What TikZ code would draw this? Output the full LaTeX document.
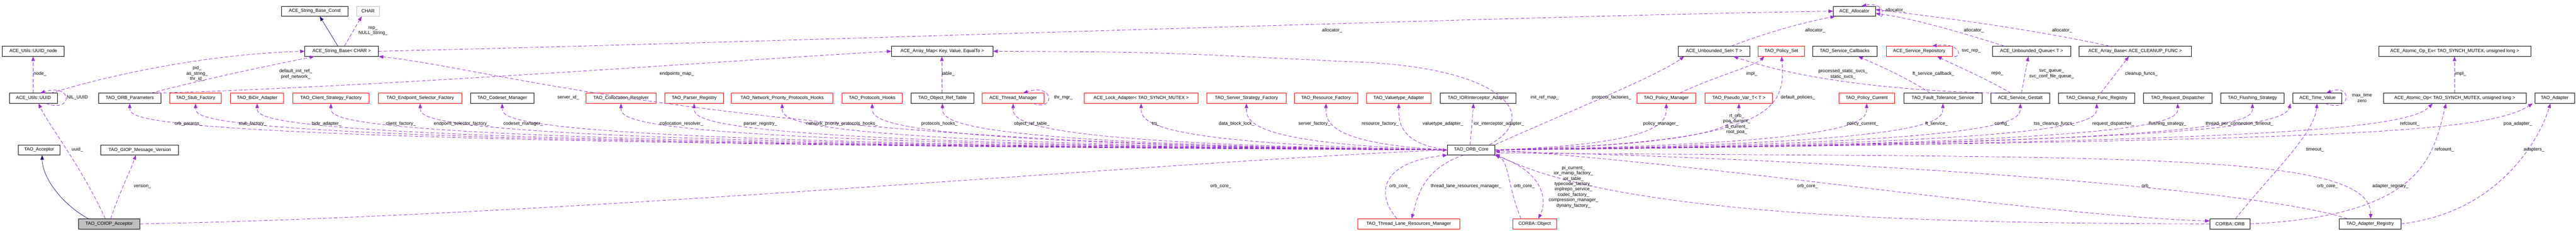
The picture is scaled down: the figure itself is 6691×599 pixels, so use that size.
\documentclass[tikz,border=0pt]{standalone}
\usepackage{fontspec}
\setmainfont{Liberation Sans}
\usetikzlibrary{arrows.meta,calc}
\definecolor{dpurple}{HTML}{9A32CD}
\definecolor{dnavy}{HTML}{191970}
\tikzset{
  box/.style={draw=black,line width=1pt,minimum height=26pt,inner sep=2pt,font=\fontsize{12}{14}\selectfont},
  redbox/.style={box,draw=red},
  lbl/.style={inner sep=0pt,align=center,font=\fontsize{12}{14}\selectfont},
  dep/.style={draw=dpurple,dash pattern=on 9pt off 5pt,line width=1.1pt,-{Triangle[length=12pt,width=9pt,fill=dpurple]}},
  inh/.style={draw=dnavy,line width=1pt,-{Triangle[length=12pt,width=9pt,fill=dnavy]}}
}
\newcommand\ce[2]{\draw[dep] (core.#1) .. controls ($(#2)+(0,-105)$) and ($(#2)+(0,-45)$) .. (#2);}
\begin{document}
\begin{tikzpicture}[x=1pt,y=1pt]
\useasboundingbox (0,0) rectangle (6691,-599);
% row 1
\node[box,minimum width=173] (sbconst) at (817.5,-29) {ACE\_String\_Base\_Const};
\node[box,draw=gray!50,minimum width=60] (char) at (956,-29) {CHAR};
\node[box,minimum width=109] (alloc) at (4816.5,-29) {ACE\_Allocator};
% row 2
\node[box,minimum width=161] (uuidnode) at (86.5,-133) {ACE\_Utils::UUID\_node};
\node[box,minimum width=191] (sbase) at (887.5,-133) {ACE\_String\_Base< CHAR >};
\node[box,minimum width=263] (arraymap) at (2447.5,-133) {ACE\_Array\_Map< Key, Value, EqualTo >};
\node[box,minimum width=186] (uset) at (4452,-133) {ACE\_Unbounded\_Set< T >};
\node[redbox,minimum width=120] (polset) at (4627,-133) {TAO\_Policy\_Set};
\node[box,minimum width=167] (svccb) at (4791.5,-133) {TAO\_Service\_Callbacks};
\node[redbox,minimum width=172] (svcrepo) at (4985,-133) {ACE\_Service\_Repository};
\node[box,minimum width=204] (uqueue) at (5277,-133) {ACE\_Unbounded\_Queue< T >};
\node[box,minimum width=292] (abase) at (5546,-133) {ACE\_Array\_Base< ACE\_CLEANUP\_FUNC >};
\node[box,minimum width=394] (atomicex) at (6376,-133) {ACE\_Atomic\_Op\_Ex< TAO\_SYNCH\_MUTEX, unsigned long >};
% row 3
\node[box,minimum width=124] (uuid) at (87,-255) {ACE\_Utils::UUID};
\node[box,minimum width=162] (orbparams) at (337,-255) {TAO\_ORB\_Parameters};
\node[redbox,minimum width=134] (stubf) at (508,-255) {TAO\_Stub\_Factory};
\node[redbox,minimum width=138] (bidir) at (668,-255) {TAO\_BiDir\_Adapter};
\node[redbox,minimum width=199] (clientsf) at (859.5,-255) {TAO\_Client\_Strategy\_Factory};
\node[redbox,minimum width=217] (endpsf) at (1091.5,-255) {TAO\_Endpoint\_Selector\_Factory};
\node[box,minimum width=165] (codeset) at (1304.5,-255) {TAO\_Codeset\_Manager};
\node[redbox,minimum width=182] (colloc) at (1613,-255) {TAO\_Collocation\_Resolver};
\node[redbox,minimum width=152] (parser) at (1803,-255) {TAO\_Parser\_Registry};
\node[redbox,minimum width=263] (netprio) at (2031.5,-255) {TAO\_Network\_Priority\_Protocols\_Hooks};
\node[redbox,minimum width=157] (prothooks) at (2265.5,-255) {TAO\_Protocols\_Hooks};
\node[box,minimum width=162] (objref) at (2448,-255) {TAO\_Object\_Ref\_Table};
\node[redbox,minimum width=161] (thrmgr) at (2631.5,-255) {ACE\_Thread\_Manager};
\node[redbox,minimum width=296] (lockad) at (2964,-255) {ACE\_Lock\_Adapter< TAO\_SYNCH\_MUTEX >};
\node[redbox,minimum width=205] (serversf) at (3237.5,-255) {TAO\_Server\_Strategy\_Factory};
\node[redbox,minimum width=164] (resf) at (3444,-255) {TAO\_Resource\_Factory};
\node[redbox,minimum width=168] (valuet) at (3633,-255) {TAO\_Valuetype\_Adapter};
\node[box,minimum width=197] (iorint) at (3839.5,-255) {TAO\_IORInterceptor\_Adapter};
\node[redbox,minimum width=152] (polmgr) at (4328,-255) {TAO\_Policy\_Manager};
\node[redbox,minimum width=175] (pseudo) at (4516.5,-255) {TAO\_Pseudo\_Var\_T< T >};
\node[redbox,minimum width=145] (polcur) at (4848.5,-255) {TAO\_Policy\_Current};
\node[box,minimum width=203] (ft) at (5046.5,-255) {TAO\_Fault\_Tolerance\_Service};
\node[box,minimum width=153] (gestalt) at (5247.5,-255) {ACE\_Service\_Gestalt};
\node[box,minimum width=198] (cleanup) at (5446,-255) {TAO\_Cleanup\_Func\_Registry};
\node[box,minimum width=177] (reqdisp) at (5656.5,-255) {TAO\_Request\_Dispatcher};
\node[box,minimum width=165] (flush) at (5850.5,-255) {TAO\_Flushing\_Strategy};
\node[box,minimum width=127] (timev) at (6019.5,-255) {ACE\_Time\_Value};
\node[box,minimum width=370] (atomic) at (6376,-255) {ACE\_Atomic\_Op< TAO\_SYNCH\_MUTEX, unsigned long >};
\node[box,minimum width=103] (adapter) at (6635.5,-255) {TAO\_Adapter};
% row 4
\node[box,minimum width=109] (acceptor) at (101.5,-389) {TAO\_Acceptor};
\node[box,minimum width=202] (giop) at (363,-389) {TAO\_GIOP\_Message\_Version};
\node[box,minimum width=123] (core) at (3821.5,-389) {TAO\_ORB\_Core};
% row 5
\node[box,fill=gray!50,minimum width=159] (coiop) at (283.5,-581) {TAO\_COIOP\_Acceptor};
\node[redbox,minimum width=266] (tlrm) at (3659,-581) {TAO\_Thread\_Lane\_Resources\_Manager};
\node[redbox,minimum width=114] (cobj) at (3986,-581) {CORBA::Object};
\node[box,minimum width=105] (corb) at (5792.5,-581) {CORBA::ORB};
\node[box,minimum width=160] (adreg) at (6156,-581) {TAO\_Adapter\_Registry};

% inheritance
\draw[inh] ([xshift=26pt]coiop.north west) .. controls (160,-530) and (110,-460) .. ([xshift=8pt]acceptor.south);
\draw[inh] ([xshift=86pt]sbase.north west) -- ([xshift=100pt]sbconst.south west);

% dependencies (left part)
\draw[dep] ([xshift=70pt]coiop.north west) .. controls (210,-430) and (130,-330) .. ([xshift=13pt]uuid.south);
\draw[dep] ([xshift=84pt]coiop.north west) .. controls (310,-500) and (340,-440) .. ([xshift=-10pt]giop.south);
\draw[dep] (coiop.east) .. controls (1500,-560) and (3000,-420) .. (core.west);
\draw[dep] ([xshift=-1pt]uuid.north) -- ([xshift=-0.5pt]uuidnode.south);
\draw[dep] ([xshift=95pt]uuid.south west) .. controls (190,-295) and (190,-215) .. ([xshift=80pt]uuid.north west);
\draw[dep] ([xshift=108pt]uuid.north west) .. controls (300,-190) and (550,-140) .. (sbase.west);
\draw[dep] ([xshift=137pt]orbparams.north west) .. controls (550,-200) and (750,-160) .. ([xshift=25pt]sbase.south west);
\draw[dep] ([xshift=155pt]orbparams.north west) .. controls (1000,-225) and (2000,-150) .. (arraymap.west);
\draw[dep] ([xshift=103pt]sbase.north west) -- ([xshift=14pt]char.south west);
\draw[dep] (sbase.east) .. controls (2000,-110) and (4000,-40) .. (alloc.west);
\draw[dep] (core.west) .. controls (1900,-380) and (1300,-180) .. (sbase.south east);
\draw[dep] ([xshift=-15pt]core.north east) .. controls (4010,-300) and (3900,-170) .. (3500,-160) .. controls (3000,-135) .. (arraymap.east);
\draw[dep] ([xshift=80pt]objref.north west) -- ([xshift=131pt]arraymap.south west);
\draw[dep] ([xshift=134pt]thrmgr.south west) .. controls (2740,-290) and (2740,-215) .. ([xshift=107pt]thrmgr.north west);

% ORB core -> row 3
\ce{west}{orbparams.south}
\ce{west}{stubf.south}
\ce{west}{bidir.south}
\ce{west}{clientsf.south}
\ce{west}{endpsf.south}
\ce{west}{codeset.south}
\ce{west}{colloc.south}
\ce{west}{parser.south}
\ce{west}{netprio.south}
\ce{west}{prothooks.south}
\ce{west}{objref.south}
\ce{west}{thrmgr.south}
\ce{west}{lockad.south}
\ce{west}{serversf.south}
\ce{west}{resf.south}
\ce{west}{valuet.south}
\draw[dep] ([xshift=-3pt]core.north) -- ([xshift=-12pt]iorint.south);
\ce{east}{polmgr.south}
\ce{east}{pseudo.south}
\ce{east}{polcur.south}
\ce{east}{ft.south}
\ce{east}{gestalt.south}
\ce{east}{cleanup.south}
\ce{east}{reqdisp.south}
\ce{east}{flush.south}
\draw[dep] (core.east) .. controls (5500,-370) and (5930,-340) .. ([xshift=-6pt]timev.south west);
\draw[dep] (core.east) .. controls (5800,-370) and (6250,-340) .. ([xshift=128pt]atomic.south west);
\draw[dep] (core.east) .. controls (6000,-365) and (6450,-350) .. ([xshift=-5pt]adapter.south west);
\draw[dep] (core.north east) .. controls (4050,-300) and (4300,-200) .. ([xshift=16pt]uset.south west);
\draw[dep] (core.east) .. controls (4600,-370) and (4640,-290) .. ([xshift=61pt]polset.south west);

% lower part
\draw[dep] ([xshift=-20pt]core.south) .. controls (3690,-440) and (3680,-520) .. ([xshift=141pt]tlrm.north west);
\draw[dep] ([xshift=103pt]tlrm.north west) .. controls (3570,-500) and (3590,-420) .. (core.south west);
\draw[dep] ([xshift=22pt]cobj.north west) .. controls (3915,-480) and (3920,-420) .. (core.south east);
\draw[dep] ([xshift=-5pt]core.south east) .. controls (4010,-440) and (4020,-520) .. ([xshift=67pt]cobj.north west);
\draw[dep] (corb.west) .. controls (5000,-580) and (4200,-560) .. ([yshift=3pt]core.south east);
\draw[dep] (core.east) .. controls (4500,-430) and (5300,-560) .. ([yshift=-6pt]corb.north west);
\draw[dep] ([xshift=21pt]adreg.north west) .. controls (5900,-500) and (5000,-420) .. ([yshift=-4pt]core.east);
\draw[dep] ([yshift=-8pt]core.east) .. controls (5500,-410) and (6160,-390) .. ([xshift=82pt]adreg.north west);
\draw[dep] ([xshift=67pt]corb.north west) .. controls (5900,-450) and (6010,-350) .. ([xshift=63pt]timev.south west);
\draw[dep] (corb.east) .. controls (6300,-560) and (6320,-400) .. ([xshift=163pt]atomic.south west);
\draw[dep] (adreg.east) .. controls (6500,-550) and (6600,-350) .. ([xshift=41pt]adapter.south west);
\draw[dep] ([xshift=185pt]atomic.north west) -- ([xshift=197pt]atomicex.south west);
\draw[dep] ([xshift=84pt]timev.south west) .. controls (6110,-295) and (6110,-215) .. ([xshift=87pt]timev.north west);

% upper right part
\draw[dep] ([xshift=112pt]polmgr.north west) .. controls (4450,-200) and (4560,-170) .. ([xshift=16pt]polset.south west);
\draw[dep] ([xshift=10pt]gestalt.north west) .. controls (4800,-232) and (4600,-180) .. ([xshift=144pt]uset.south west);
\draw[dep] ([xshift=53pt]gestalt.north west) .. controls (5150,-200) and (5080,-170) .. ([xshift=133pt]svcrepo.south west);
\draw[dep] ([xshift=80pt]gestalt.north west) -- ([xshift=94pt]uqueue.south west);
\draw[dep] ([xshift=69pt]ft.north west) .. controls (4950,-200) and (4880,-170) .. ([xshift=119pt]svccb.south west);
\draw[dep] ([xshift=178pt]svcrepo.south west) .. controls (5095,-150) and (5095,-110) .. ([xshift=120pt]svcrepo.north west);
\draw[dep] ([xshift=123pt]alloc.south west) .. controls (4895,-45) and (4895,-5) .. ([xshift=74pt]alloc.north west);
\draw[dep] ([xshift=139pt]uset.north west) .. controls (4600,-80) and (4700,-55) .. ([xshift=5pt]alloc.south west);
\draw[dep] ([xshift=31pt]uqueue.north west) .. controls (5050,-70) and (4950,-45) .. ([yshift=-6pt]alloc.east);
\draw[dep] ([xshift=79pt]abase.north west) .. controls (5250,-70) and (5000,-40) .. ([yshift=4pt]alloc.east);
\draw[dep] ([xshift=110pt]cleanup.north west) -- ([xshift=130pt]abase.south west);

% labels
\node[lbl] (a1) at (201,-388) {uuid\_};
\node[lbl] (a2) at (370,-483) {version\_};
\node[lbl] (a3) at (3171,-483) {orb\_core\_};
\node[lbl] (a4) at (104,-191) {node\_};
\node[lbl] (a5) at (201,-253) {NIL\_UUID};
\node[lbl] (a6) at (512,-191) {pid\_\\as\_string\_\\thr\_id\_};
\node[lbl] (a7) at (768,-192) {default\_init\_ref\_\\pref\_network\_};
\node[lbl] (a8) at (1758,-191) {endpoints\_map\_};
\node[lbl] (a9) at (969,-80) {rep\_\\NULL\_String\_};
\node[lbl] (a10) at (3460,-79) {allocator\_};
\node[lbl] (a11) at (1476,-253) {server\_id\_};
\node[lbl] (a12) at (4012,-253) {init\_ref\_map\_};
\node[lbl] (a13) at (2463,-191) {table\_};
\node[lbl] (a14) at (2762,-253) {thr\_mgr\_};
\node[lbl] (b1) at (489,-322) {orb\_params\_};
\node[lbl] (b2) at (656,-322) {stub\_factory\_};
\node[lbl] (b3) at (848,-322) {bidir\_adapter\_};
\node[lbl] (b4) at (1041,-322) {client\_factory\_};
\node[lbl] (b5) at (1199,-322) {endpoint\_selector\_factory\_};
\node[lbl] (b6) at (1359,-322) {codeset\_manager\_};
\node[lbl] (b7) at (1770,-322) {collocation\_resolver\_};
\node[lbl] (b8) at (1975,-322) {parser\_registry\_};
\node[lbl] (b9) at (2187,-322) {network\_priority\_protocols\_hooks\_};
\node[lbl] (b10) at (2440,-322) {protocols\_hooks\_};
\node[lbl] (b11) at (2680,-322) {object\_ref\_table\_};
\node[lbl] (b12) at (3002,-322) {tm\_};
\node[lbl] (b13) at (3212,-322) {data\_block\_lock\_};
\node[lbl] (b14) at (3414,-322) {server\_factory\_};
\node[lbl] (b15) at (3585,-322) {resource\_factory\_};
\node[lbl] (b16) at (3748,-322) {valuetype\_adapter\_};
\node[lbl] (b17) at (3893,-322) {ior\_interceptor\_adapter\_};
\node[lbl] (b18) at (4314,-322) {policy\_manager\_};
\node[lbl] (b19) at (4511,-322) {rt\_orb\_\\poa\_current\_\\rt\_current\_\\root\_poa\_};
\node[lbl] (b20) at (4838,-322) {policy\_current\_};
\node[lbl] (b21) at (5030,-322) {ft\_service\_};
\node[lbl] (b22) at (5200,-322) {config\_};
\node[lbl] (b23) at (5336,-322) {tss\_cleanup\_funcs\_};
\node[lbl] (b24) at (5489,-322) {request\_dispatcher\_};
\node[lbl] (b25) at (5630,-322) {flushing\_strategy\_};
\node[lbl] (b26) at (5817,-322) {thread\_per\_connection\_timeout\_};
\node[lbl] (b27) at (6259,-322) {refcount\_};
\node[lbl] (b28) at (6540,-322) {poa\_adapter\_};
\node[lbl] (c1) at (4186,-253) {protocol\_factories\_};
\node[lbl] (c2) at (4670,-253) {default\_policies\_};
\node[lbl] (c3) at (4550,-191) {impl\_};
\node[lbl] (c4) at (4787,-192) {processed\_static\_svcs\_\\static\_svcs\_};
\node[lbl] (c5) at (5022,-191) {ft\_service\_callback\_};
\node[lbl] (c6) at (5188,-191) {repo\_};
\node[lbl] (c7) at (5329,-192) {svc\_queue\_\\svc\_conf\_file\_queue\_};
\node[lbl] (c8) at (5562,-191) {cleanup\_funcs\_};
\node[lbl] (c9) at (6391,-191) {impl\_};
\node[lbl] (c10) at (4715,-79) {allocator\_};
\node[lbl] (c11) at (5127,-79) {allocator\_};
\node[lbl] (c12) at (5356,-79) {allocator\_};
\node[lbl] (c13) at (4923,-27) {allocator\_};
\node[lbl] (c14) at (5120,-132) {svc\_rep\_};
\node[lbl] (c15) at (6135,-254) {max\_time\\zero};
\node[lbl] (d1) at (6013,-388) {timeout\_};
\node[lbl] (d2) at (6349,-388) {refcount\_};
\node[lbl] (d3) at (6582,-388) {adapters\_};
\node[lbl] (e1) at (3636,-483) {orb\_core\_};
\node[lbl] (e2) at (3808,-483) {thread\_lane\_resources\_manager\_};
\node[lbl] (e3) at (3959,-483) {orb\_core\_};
\node[lbl] (e4) at (4087,-485) {pi\_current\_\\ior\_manip\_factory\_\\ior\_table\_\\typecode\_factory\_\\implrepo\_service\_\\codec\_factory\_\\compression\_manager\_\\dynany\_factory\_};
\node[lbl] (e5) at (4695,-483) {orb\_core\_};
\node[lbl] (e6) at (5575,-483) {orb\_};
\node[lbl] (e7) at (6045,-483) {orb\_core\_};
\node[lbl] (e8) at (6209,-483) {adapter\_registry\_};
\end{tikzpicture}
\end{document}
